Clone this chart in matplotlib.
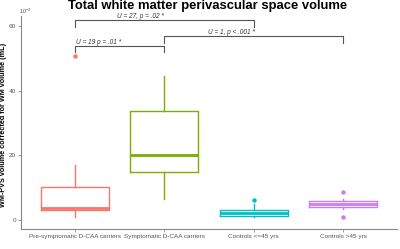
import matplotlib
matplotlib.use("Agg")
import matplotlib.pyplot as plt

plt.rcParams['font.family'] = ['Liberation Sans', 'DejaVu Sans']
plt.rcParams['mathtext.fontset'] = 'custom'
plt.rcParams['mathtext.it'] = 'Liberation Sans:italic'
plt.rcParams['mathtext.rm'] = 'Liberation Sans'

groups = ["Pre-symptomatic D-CAA carriers", "Symptomatic D-CAA carriers",
          "Controls <=45 yrs", "Controls >45 yrs"]
colors = ["#F8766D", "#7CAE00", "#00BFC4", "#C77CFF"]

# box stats (x 10^-3 mL)
whislo = [1.0, 6.5, 0.8, 3.3]
q1 = [3.1, 14.7, 1.1, 3.9]
med = [3.6, 20.1, 2.2, 4.9]
q3 = [10.2, 33.8, 3.1, 5.8]
whishi = [16.9, 44.4, 5.0, 6.4]
fliers = [[50.6], [], [6.2], [8.7, 0.9]]

# significance brackets
br_from = [1, 1, 2]
br_to = [2, 3, 4]
br_y = [53.8, 61.9, 56.9]
br_low = [52.0, 59.7, 54.7]
br_text = ["U = 19 p = .01", "U = 27, p = .02", "U = 1, p < .001"]
br_tx = [1.01, 1.73, 2.75]
br_ha = ["left", "center", "center"]

fig = plt.figure(figsize=(4, 2.49), dpi=100)
ax = fig.add_axes([0.0525, 0.0803, 0.94, 0.8554])

pos = list(range(1, len(groups) + 1))
for i in range(len(groups)):
    c = colors[i]
    st = dict(whislo=whislo[i], q1=q1[i], med=med[i], q3=q3[i],
              whishi=whishi[i], fliers=fliers[i])
    ax.bxp([st], positions=[pos[i]], widths=0.76, showcaps=False,
           boxprops=dict(color=c, linewidth=1.0),
           whiskerprops=dict(color=c, linewidth=1.0),
           medianprops=dict(color=c, linewidth=2.0),
           flierprops=dict(marker="o", markerfacecolor=c, markeredgecolor=c,
                           markersize=2.2))

for i in range(len(br_from)):
    a, b = br_from[i], br_to[i]
    ax.plot([a, a, b, b], [br_low[i], br_y[i], br_y[i], br_low[i]],
            color="#555555", linewidth=0.8, clip_on=False)
    ax.text(br_tx[i], br_y[i] + 0.7, br_text[i] + " *", ha=br_ha[i], va="baseline",
            fontsize=4.7, color="#333333", style="italic")

ax.set_xlim(0.4, 4.6)
ax.set_ylim(-2.8, 63.1)
ax.set_xticks(pos)
ax.set_xticklabels(groups, fontsize=4.6, color="#555555")
ax.set_yticks([0, 20, 40, 60])
ax.set_yticklabels(["0", "20", "40", "60"], fontsize=4.6, color="#555555")
ax.tick_params(length=2, width=0.5, color="#777777", pad=1.5)
for s in ["top", "right"]:
    ax.spines[s].set_visible(False)
for s in ["left", "bottom"]:
    ax.spines[s].set_color("#888888")
    ax.spines[s].set_linewidth(0.8)

ax.set_ylabel("WM-PVS volume corrected for WM volume (mL)", fontsize=5.2,
              fontweight="bold")
ax.yaxis.set_label_coords(-0.038, 0.49)
fig.text(0.0475, 0.955, r"10$^{-3}$", fontsize=4, color="#555555", ha="left", va="center")
fig.text(0.52, 1.0, "Total white matter perivascular space volume", fontsize=9.4,
         fontweight="bold", ha="center", va="top")

fig.savefig("out.png", dpi=100)
